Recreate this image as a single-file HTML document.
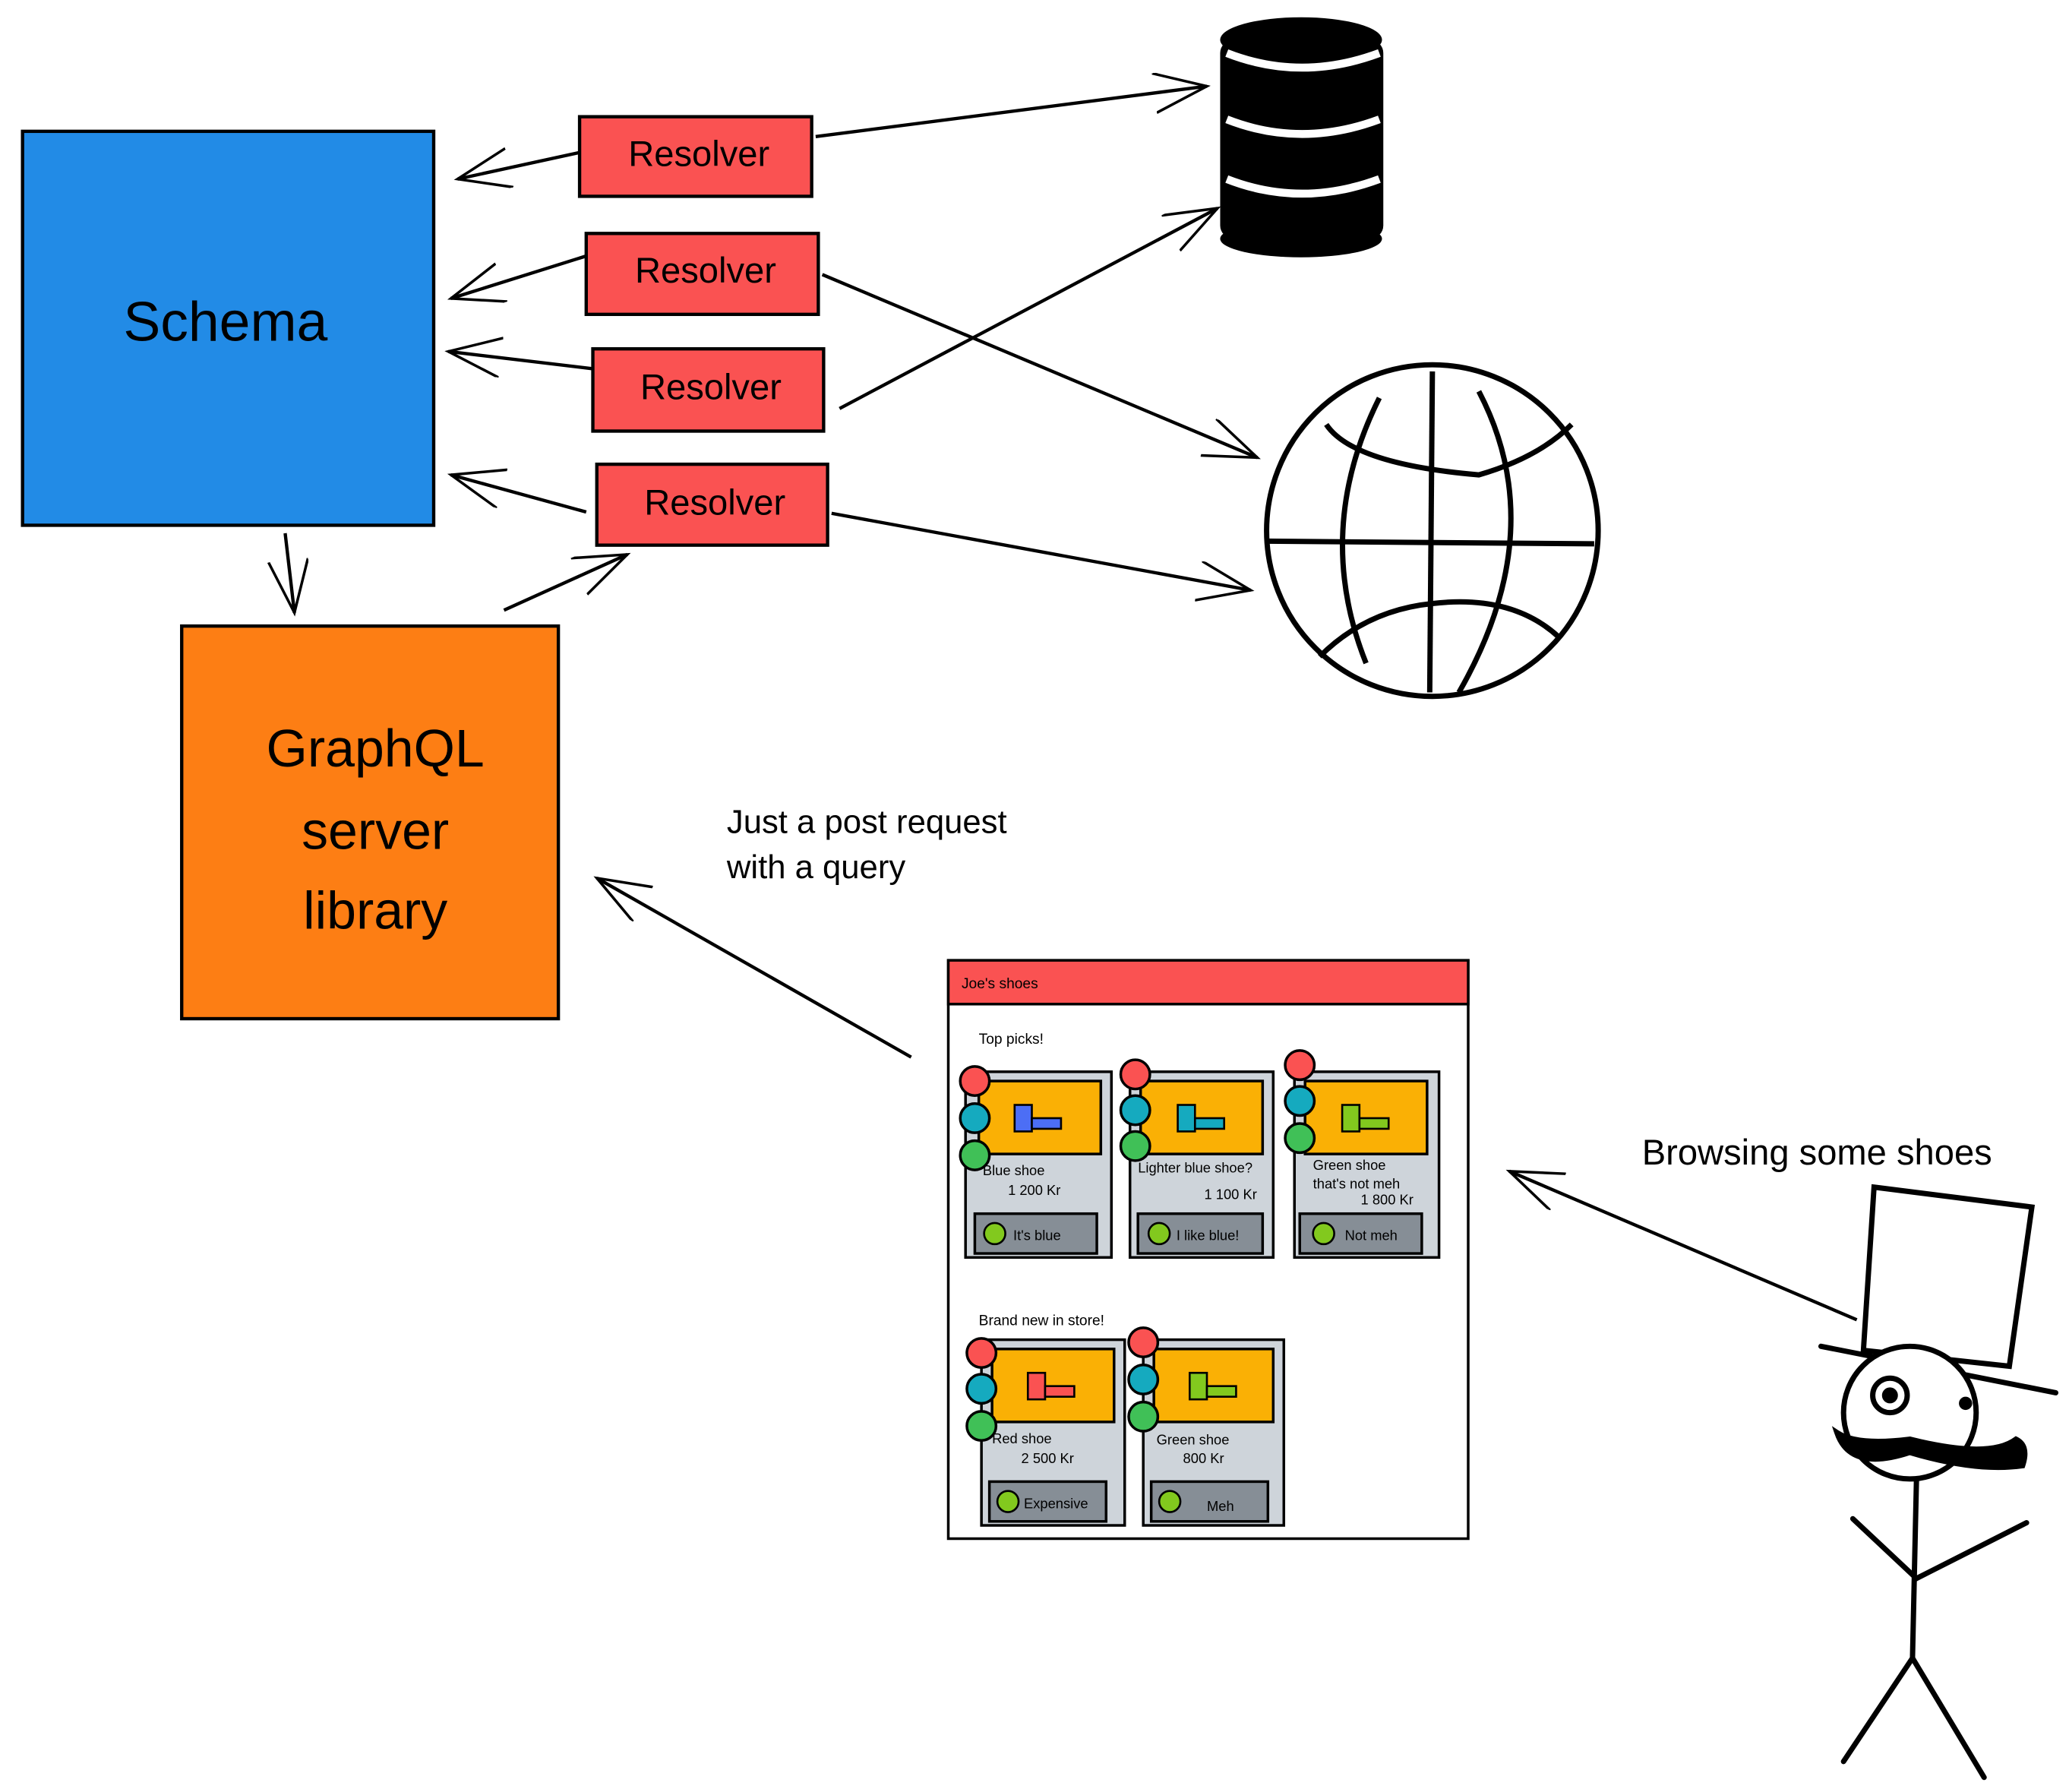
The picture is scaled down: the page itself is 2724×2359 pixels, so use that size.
<!DOCTYPE html>
<html><head><meta charset="utf-8"><style>
html,body{margin:0;padding:0;background:#fff}
svg{display:block}
text{font-family:"Liberation Sans","DejaVu Sans",sans-serif;fill:#000}
</style></head><body>
<svg width="2724" height="2359" viewBox="0 0 1560 1351" preserveAspectRatio="none" xmlns="http://www.w3.org/2000/svg">
<defs>
<marker id="a" markerUnits="userSpaceOnUse" markerWidth="60" markerHeight="60" refX="40" refY="15" orient="auto">
<path d="M0,0 L40,15 L0,30" fill="none" stroke="#000" stroke-width="2"/>
</marker>
</defs>
<rect width="1560" height="1351" fill="#fff"/>
<g stroke="#000" stroke-width="2.5">
<rect x="17" y="99" width="310" height="297" fill="#228be6"/>
<rect x="137" y="472" width="284" height="296" fill="#fd7e14"/>
<rect x="437" y="88" width="175" height="60" fill="#fa5252"/>
<rect x="442" y="176" width="175" height="61" fill="#fa5252"/>
<rect x="447" y="263" width="174" height="62" fill="#fa5252"/>
<rect x="450" y="350" width="174" height="61" fill="#fa5252"/>
</g>
<text x="170" y="257" font-size="42" text-anchor="middle">Schema</text>
<g font-size="40" text-anchor="middle">
<text x="283" y="578">GraphQL</text><text x="283" y="640">server</text><text x="283" y="700">library</text>
</g>
<g font-size="27" text-anchor="middle">
<text x="527" y="125">Resolver</text><text x="532" y="213">Resolver</text>
<text x="536" y="301">Resolver</text><text x="539" y="388">Resolver</text>
</g>
<g stroke="#000" stroke-width="2.5" fill="none" marker-end="url(#a)">
<line x1="437" y1="115" x2="345" y2="135"/>
<line x1="442" y1="193" x2="340" y2="225"/>
<line x1="447" y1="278" x2="338" y2="265"/>
<line x1="442" y1="386" x2="340" y2="358"/>
<line x1="615" y1="103" x2="910" y2="65"/>
<line x1="620" y1="207" x2="948" y2="345"/>
<line x1="633" y1="308" x2="918" y2="157"/>
<line x1="627" y1="387" x2="943" y2="445"/>
<line x1="215" y1="402" x2="222" y2="462"/>
<line x1="380" y1="460" x2="473" y2="418"/>
<line x1="687" y1="797" x2="450" y2="662"/>
<line x1="1400" y1="995" x2="1138" y2="883"/>
</g>
<text x="548" y="628" font-size="25">Just a post request</text>
<text x="548" y="662" font-size="25">with a query</text>
<text x="1238" y="878" font-size="27">Browsing some shoes</text>
<!-- database -->
<g>
<rect x="920" y="30" width="123" height="150" rx="10" fill="#000"/>
<ellipse cx="981" cy="30" rx="61" ry="17" fill="#000"/>
<ellipse cx="981" cy="180" rx="61" ry="14" fill="#000"/>
<g stroke="#fff" stroke-width="6" fill="none">
<path d="M925,40 Q981,62 1040,40"/>
<path d="M925,90 Q981,112 1040,90"/>
<path d="M925,135 Q981,157 1040,135"/>
</g>
</g>
<!-- globe -->
<g stroke="#000" stroke-width="4" fill="none">
<circle cx="1080" cy="400" r="125"/>
<line x1="955" y1="408" x2="1202" y2="410"/>
<line x1="1080" y1="280" x2="1078" y2="522"/>
<path d="M1040,300 Q990,400 1030,500"/>
<path d="M1115,295 Q1170,400 1100,522"/>
<path d="M1000,320 Q1020,350 1115,358 Q1160,345 1185,320"/>
<path d="M995,495 Q1030,460 1080,455 Q1140,448 1175,480"/>
</g>
<!-- mockup -->
<g stroke="#000" stroke-width="2">
<rect x="715" y="724" width="392" height="436" fill="#fff"/>
<rect x="715" y="724" width="392" height="33" fill="#fa5252"/>
</g>
<text x="725" y="745" font-size="11">Joe's shoes</text>
<text x="738" y="787" font-size="11">Top picks!</text>
<text x="738" y="999" font-size="11">Brand new in store!</text>
<g font-size="10.5">
<!-- card template via repeated groups -->
<g transform="translate(728,808)">
<rect width="110" height="140" fill="#ced4da" stroke="#000" stroke-width="2"/>
<rect x="10" y="7" width="92" height="55" fill="#fab005" stroke="#000" stroke-width="2"/>
<rect x="37" y="25" width="13" height="20" fill="#4c6ef5" stroke="#000" stroke-width="1.5"/>
<rect x="50" y="35" width="22" height="8" fill="#4c6ef5" stroke="#000" stroke-width="1.5"/>
<text x="13" y="78">Blue shoe</text><text x="32" y="93">1 200 Kr</text>
<rect x="7" y="107" width="92" height="30" fill="#868e96" stroke="#000" stroke-width="2"/>
<circle cx="22" cy="122" r="8" fill="#82c91e" stroke="#000" stroke-width="1.5"/>
<text x="36" y="127">It's blue</text>
</g>
<g transform="translate(852,808)">
<rect width="108" height="140" fill="#ced4da" stroke="#000" stroke-width="2"/>
<rect x="8" y="7" width="92" height="55" fill="#fab005" stroke="#000" stroke-width="2"/>
<rect x="36" y="25" width="13" height="20" fill="#15aabf" stroke="#000" stroke-width="1.5"/>
<rect x="49" y="35" width="22" height="8" fill="#15aabf" stroke="#000" stroke-width="1.5"/>
<text x="6" y="76">Lighter blue shoe?</text><text x="56" y="96">1 100 Kr</text>
<rect x="6" y="107" width="94" height="30" fill="#868e96" stroke="#000" stroke-width="2"/>
<circle cx="22" cy="122" r="8" fill="#82c91e" stroke="#000" stroke-width="1.5"/>
<text x="35" y="127">I like blue!</text>
</g>
<g transform="translate(976,808)">
<rect width="109" height="140" fill="#ced4da" stroke="#000" stroke-width="2"/>
<rect x="8" y="7" width="92" height="55" fill="#fab005" stroke="#000" stroke-width="2"/>
<rect x="36" y="25" width="13" height="20" fill="#82c91e" stroke="#000" stroke-width="1.5"/>
<rect x="49" y="35" width="22" height="8" fill="#82c91e" stroke="#000" stroke-width="1.5"/>
<text x="14" y="74">Green shoe</text><text x="14" y="88">that's not meh</text><text x="50" y="100">1 800 Kr</text>
<rect x="4" y="107" width="92" height="30" fill="#868e96" stroke="#000" stroke-width="2"/>
<circle cx="22" cy="122" r="8" fill="#82c91e" stroke="#000" stroke-width="1.5"/>
<text x="38" y="127">Not meh</text>
</g>
<g transform="translate(740,1010)">
<rect width="108" height="140" fill="#ced4da" stroke="#000" stroke-width="2"/>
<rect x="8" y="7" width="92" height="55" fill="#fab005" stroke="#000" stroke-width="2"/>
<rect x="35" y="25" width="13" height="20" fill="#fa5252" stroke="#000" stroke-width="1.5"/>
<rect x="48" y="35" width="22" height="8" fill="#fa5252" stroke="#000" stroke-width="1.5"/>
<text x="8" y="78">Red shoe</text><text x="30" y="93">2 500 Kr</text>
<rect x="6" y="107" width="88" height="30" fill="#868e96" stroke="#000" stroke-width="2"/>
<circle cx="20" cy="122" r="8" fill="#82c91e" stroke="#000" stroke-width="1.5"/>
<text x="32" y="127">Expensive</text>
</g>
<g transform="translate(862,1010)">
<rect width="106" height="140" fill="#ced4da" stroke="#000" stroke-width="2"/>
<rect x="8" y="7" width="90" height="55" fill="#fab005" stroke="#000" stroke-width="2"/>
<rect x="35" y="25" width="13" height="20" fill="#82c91e" stroke="#000" stroke-width="1.5"/>
<rect x="48" y="35" width="22" height="8" fill="#82c91e" stroke="#000" stroke-width="1.5"/>
<text x="10" y="79">Green shoe</text><text x="30" y="93">800 Kr</text>
<rect x="6" y="107" width="88" height="30" fill="#868e96" stroke="#000" stroke-width="2"/>
<circle cx="20" cy="122" r="8" fill="#82c91e" stroke="#000" stroke-width="1.5"/>
<text x="48" y="129">Meh</text>
</g>
</g>
<!-- traffic light circles -->
<g stroke="#000" stroke-width="2">
<circle cx="735" cy="815" r="11" fill="#fa5252"/><circle cx="735" cy="843" r="11" fill="#15aabf"/><circle cx="735" cy="871" r="11" fill="#40c057"/>
<circle cx="856" cy="810" r="11" fill="#fa5252"/><circle cx="856" cy="837" r="11" fill="#15aabf"/><circle cx="856" cy="864" r="11" fill="#40c057"/>
<circle cx="980" cy="803" r="11" fill="#fa5252"/><circle cx="980" cy="830" r="11" fill="#15aabf"/><circle cx="980" cy="858" r="11" fill="#40c057"/>
<circle cx="740" cy="1020" r="11" fill="#fa5252"/><circle cx="740" cy="1047" r="11" fill="#15aabf"/><circle cx="740" cy="1075" r="11" fill="#40c057"/>
<circle cx="862" cy="1012" r="11" fill="#fa5252"/><circle cx="862" cy="1040" r="11" fill="#15aabf"/><circle cx="862" cy="1068" r="11" fill="#40c057"/>
</g>
<!-- person -->
<g stroke="#000" stroke-width="4" fill="none" stroke-linecap="round">
<path d="M1413,895 L1532,910 L1515,1030 L1405,1018 Z" fill="#fff"/>
<line x1="1373" y1="1015" x2="1550" y2="1050"/>
<circle cx="1440" cy="1065" r="50" fill="#fff"/>
<circle cx="1425" cy="1052" r="13"/>
<circle cx="1425" cy="1052" r="4" fill="#000"/>
<circle cx="1482" cy="1058" r="3" fill="#000"/>
<path d="M1385,1080 Q1395,1110 1440,1095 Q1490,1110 1525,1105 Q1530,1090 1520,1085 Q1500,1100 1440,1085 Q1400,1090 1385,1080 Z" fill="#000"/>
<line x1="1445" y1="1115" x2="1442" y2="1250"/>
<polyline points="1397,1145 1445,1190 1528,1148"/>
<line x1="1442" y1="1250" x2="1390" y2="1328"/>
<line x1="1442" y1="1250" x2="1496" y2="1340"/>
</g>
</svg>
</body></html>
